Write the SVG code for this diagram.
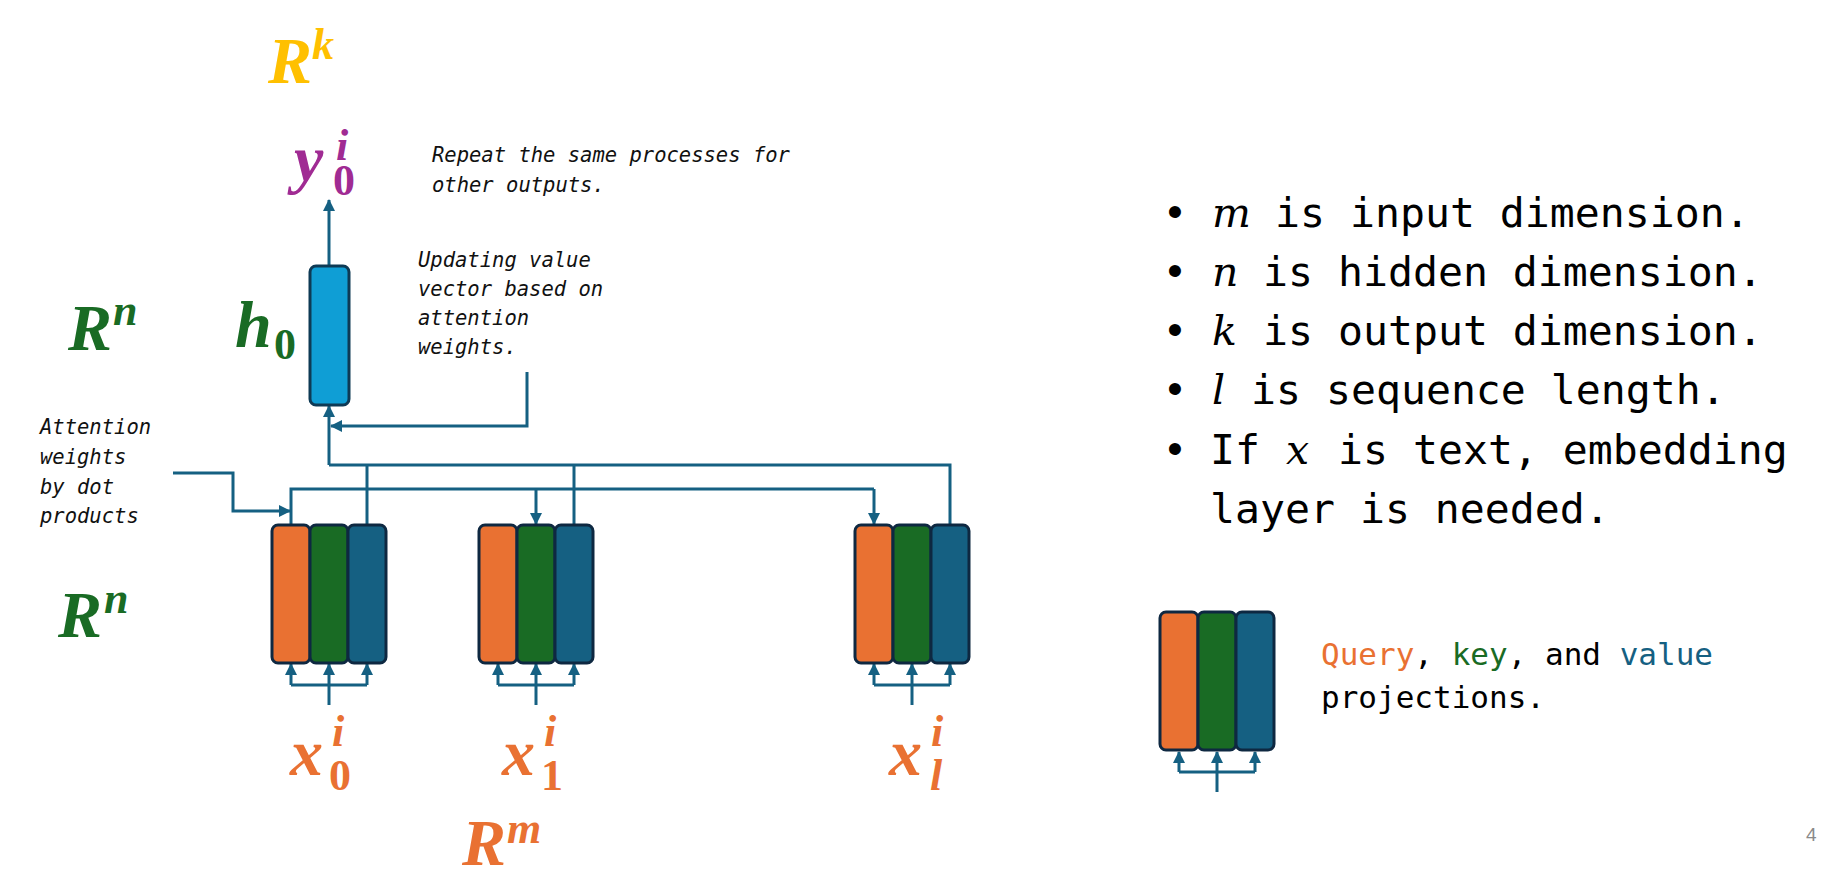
<svg xmlns="http://www.w3.org/2000/svg" width="1833" height="874" viewBox="0 0 1833 874">
<style>
.bg{fill:#ffffff}
.m{font-family:"Liberation Serif","Times New Roman",serif;font-weight:bold;font-style:italic;font-size:66px}
.up{font-style:normal}
.s{font-size:44px}
.gold{fill:#FFC000}
.pur{fill:#A02B93}
.grn{fill:#196B24}
.org{fill:#E97132}
.note{font-family:"DejaVu Sans Mono","Liberation Mono",monospace;font-style:oblique;font-size:20.5px;fill:#111111}
.txt{font-family:"DejaVu Sans Mono","Liberation Mono",monospace;font-size:41.5px;fill:#000000}
.var{font-family:"DejaVu Serif","Liberation Serif",serif;font-style:italic;font-size:41px;fill:#000000}
.bul{font-family:"Liberation Sans",Arial,sans-serif;font-size:44px;fill:#000000}
.leg{font-family:"DejaVu Sans Mono","Liberation Mono",monospace;font-size:31px;fill:#000000}
.colq{fill:#E97132;stroke:#0E2841;stroke-width:3}
.colk{fill:#196B24;stroke:#0E2841;stroke-width:3}
.colv{fill:#156082;stroke:#0E2841;stroke-width:3}
.hbox{fill:#0F9ED5;stroke:#0E3A55;stroke-width:3}
.c{fill:none;stroke:#156082;stroke-width:3}
.ca{fill:none;stroke:#156082;stroke-width:3;marker-end:url(#ah)}
</style>
<defs>
<marker id="ah" markerUnits="userSpaceOnUse" markerWidth="12" markerHeight="12" refX="11" refY="6" orient="auto">
<path d="M0,0 L12,6 L0,12 z" fill="#156082"/>
</marker>
<g id="qkv">
<rect class="colq" x="0" y="0" width="38" height="138" rx="6"/>
<rect class="colk" x="38" y="0" width="38" height="138" rx="6"/>
<rect class="colv" x="76" y="0" width="38" height="138" rx="6"/>
</g>
</defs>
<rect class="bg" x="0" y="0" width="1833" height="874"/>

<g id="connectors">
<path class="ca" d="M329,266 L329,200"/>
<path class="ca" d="M329,465 L329,406"/>
<path class="ca" d="M527,372 L527,426 L331,426"/>
<path class="c" d="M329,465 L950,465 L950,525"/>
<path class="c" d="M367,465 L367,525"/>
<path class="c" d="M574,465 L574,525"/>
<path class="c" d="M291,525 L291,489 L874,489"/>
<path class="ca" d="M536,489 L536,524"/>
<path class="ca" d="M874,489 L874,524"/>
<path class="ca" d="M173,473 L233,473 L233,511 L290,511"/>
<path class="c" d="M291,685 L367,685"/>
<path class="ca" d="M291,685 L291,664"/>
<path class="ca" d="M329,705 L329,664"/>
<path class="ca" d="M367,685 L367,664"/>
<path class="c" d="M498,685 L574,685"/>
<path class="ca" d="M498,685 L498,664"/>
<path class="ca" d="M536,705 L536,664"/>
<path class="ca" d="M574,685 L574,664"/>
<path class="c" d="M874,685 L950,685"/>
<path class="ca" d="M874,685 L874,664"/>
<path class="ca" d="M912,705 L912,664"/>
<path class="ca" d="M950,685 L950,664"/>
<path class="c" d="M1179,772 L1255,772"/>
<path class="ca" d="M1179,772 L1179,752"/>
<path class="ca" d="M1217,792 L1217,752"/>
<path class="ca" d="M1255,772 L1255,752"/>
</g>

<g id="h0-node">
<rect class="hbox" x="310" y="266" width="39" height="139" rx="6"/>
<text class="m grn" x="235" y="347">h<tspan class="s up" x="274" y="359">0</tspan></text>
</g>

<g id="qkv-0"><use href="#qkv" x="272" y="525"/></g>
<g id="qkv-1"><use href="#qkv" x="479" y="525"/></g>
<g id="qkv-l"><use href="#qkv" x="855" y="525"/></g>
<g id="qkv-legend"><use href="#qkv" x="1160" y="612"/></g>

<g id="label-Rk">
<text class="m gold" x="268" y="83">R<tspan class="s" x="312" y="59">k</tspan></text>
</g>
<g id="label-y0">
<text class="m pur" x="294" y="181">y<tspan class="s" x="336" y="160">i</tspan><tspan class="s up" x="333" y="195">0</tspan></text>
</g>
<g id="label-Rn-top">
<text class="m grn" x="68" y="350">R<tspan class="s" x="113" y="325">n</tspan></text>
</g>
<g id="label-Rn-low">
<text class="m grn" x="58" y="637">R<tspan class="s" x="104" y="613">n</tspan></text>
</g>
<g id="label-x0">
<text class="m org" x="290" y="775">x<tspan class="s" x="332" y="746">i</tspan><tspan class="s up" x="329" y="790">0</tspan></text>
</g>
<g id="label-x1">
<text class="m org" x="502" y="775">x<tspan class="s" x="544" y="746">i</tspan><tspan class="s up" x="541" y="790">1</tspan></text>
</g>
<g id="label-xl">
<text class="m org" x="889" y="775">x<tspan class="s" x="931" y="746">i</tspan><tspan class="s" x="930" y="790">l</tspan></text>
</g>
<g id="label-Rm">
<text class="m org" x="462" y="865">R<tspan class="s" x="507" y="843">m</tspan></text>
</g>

<g id="note-repeat">
<text class="note" x="432" y="162">Repeat the same processes for</text>
<text class="note" x="432" y="192">other outputs.</text>
</g>
<g id="note-updating">
<text class="note" x="418" y="267">Updating value</text>
<text class="note" x="418" y="296">vector based on</text>
<text class="note" x="418" y="325">attention</text>
<text class="note" x="418" y="354">weights.</text>
</g>
<g id="note-attention">
<text class="note" x="40" y="434">Attention</text>
<text class="note" x="40" y="464">weights</text>
<text class="note" x="40" y="494">by dot</text>
<text class="note" x="40" y="523">products</text>
</g>

<g id="bullets">
<text class="bul" x="1175" y="227" text-anchor="middle">•</text>
<text class="var" x="1212" y="227">m</text>
<text class="txt" x="1275" y="227">is input dimension.</text>
<text class="bul" x="1175" y="286" text-anchor="middle">•</text>
<text class="var" x="1212" y="286">n</text>
<text class="txt" x="1263" y="286">is hidden dimension.</text>
<text class="bul" x="1175" y="345" text-anchor="middle">•</text>
<text class="var" x="1212" y="345">k</text>
<text class="txt" x="1263" y="345">is output dimension.</text>
<text class="bul" x="1175" y="404" text-anchor="middle">•</text>
<text class="var" x="1212" y="404">l</text>
<text class="txt" x="1251" y="404">is sequence length.</text>
<text class="bul" x="1175" y="464" text-anchor="middle">•</text>
<text class="txt" x="1210" y="464">If</text>
<text class="var" x="1286" y="464">x</text>
<text class="txt" x="1338" y="464">is text, embedding</text>
<text class="txt" x="1210" y="523">layer is needed.</text>
</g>

<g id="legend-text">
<text class="leg" x="1321" y="665"><tspan fill="#E97132">Query</tspan>, <tspan fill="#196B24">key</tspan>, and <tspan fill="#156082">value</tspan></text>
<text class="leg" x="1321" y="708">projections.</text>
</g>

<g id="page-number">
<text x="1806" y="841" style="font-family:'Liberation Sans',Arial,sans-serif;font-size:19px;fill:#8A8A8A">4</text>
</g>
</svg>
